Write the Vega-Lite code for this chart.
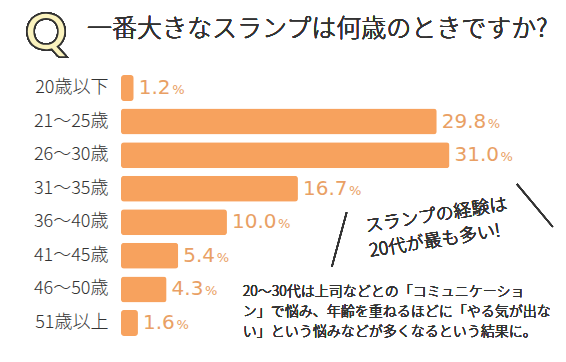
{
  "$schema": "https://vega.github.io/schema/vega-lite/v6.json",
  "width": 445,
  "height": 269,
  "autosize": {"type": "none"},
  "padding": {"left": 121, "top": 71, "right": 0, "bottom": 22},
  "background": "white",
  "config": {"view": {"stroke": null}},
  "data": {
    "values": [
      {"age": "20歳以下", "pct": 1.2, "label": "1.2"},
      {"age": "21〜25歳", "pct": 29.8, "label": "29.8"},
      {"age": "26〜30歳", "pct": 31.0, "label": "31.0"},
      {"age": "31〜35歳", "pct": 16.7, "label": "16.7"},
      {"age": "36〜40歳", "pct": 10.0, "label": "10.0"},
      {"age": "41〜45歳", "pct": 5.4, "label": "5.4"},
      {"age": "46〜50歳", "pct": 4.3, "label": "4.3"},
      {"age": "51歳以上", "pct": 1.6, "label": "1.6"}
    ]
  },
  "layer": [
    {
      "mark": {"type": "bar", "color": "#F7A25E", "cornerRadius": 3},
      "encoding": {
        "y": {
          "field": "age", "type": "nominal", "sort": null,
          "scale": {"paddingInner": 0.226, "paddingOuter": 0.12},
          "axis": {"title": null, "domain": false, "ticks": false, "labelPadding": 13, "labelFontSize": 18, "labelColor": "#333333", "labelFont": "Noto Sans CJK JP", "labelFontWeight": 300}
        },
        "x": {"field": "pct", "type": "quantitative", "scale": {"domain": [0, 42], "nice": false}, "axis": null}
      }
    },
    {
      "mark": {"type": "text", "align": "left", "baseline": "middle", "dx": 5, "font": "DejaVu Sans", "fontSize": 20, "color": "#E9A064"},
      "encoding": {
        "y": {"field": "age", "type": "nominal", "sort": null},
        "x": {"field": "pct", "type": "quantitative"},
        "text": {"field": "label"}
      }
    },
    {
      "transform": [{"filter": "length(datum.label) == 4"}],
      "mark": {"type": "text", "align": "left", "baseline": "alphabetic", "dx": 51, "dy": 6, "font": "DejaVu Sans", "fontSize": 13, "color": "#E9A064"},
      "encoding": {
        "y": {"field": "age", "type": "nominal", "sort": null},
        "x": {"field": "pct", "type": "quantitative"},
        "text": {"value": "%"}
      }
    },
    {
      "transform": [{"filter": "length(datum.label) == 3"}],
      "mark": {"type": "text", "align": "left", "baseline": "alphabetic", "dx": 38.5, "dy": 6, "font": "DejaVu Sans", "fontSize": 13, "color": "#E9A064"},
      "encoding": {
        "y": {"field": "age", "type": "nominal", "sort": null},
        "x": {"field": "pct", "type": "quantitative"},
        "text": {"value": "%"}
      }
    },
    {
      "mark": {"type": "text", "align": "center", "baseline": "middle", "dx": -75, "dy": -54, "font": "Lato", "fontWeight": "bold", "fontSize": 52, "fill": "#FBF3BE", "stroke": "#333333", "strokeWidth": 1.6},
      "encoding": {
        "x": {"datum": 0, "type": "quantitative"},
        "y": {"datum": "20歳以下"},
        "text": {"value": "Q"}
      }
    },
    {
      "mark": {"type": "text", "align": "left", "baseline": "alphabetic", "dx": -34, "dy": -51, "font": "Noto Sans CJK JP Light", "fontSize": 25, "color": "#333333"},
      "encoding": {
        "x": {"datum": 0, "type": "quantitative"},
        "y": {"datum": "20歳以下"},
        "text": {"value": "一番大きなスランプは何歳のときですか?"}
      }
    },
    {
      "mark": {"type": "text", "align": "left", "baseline": "top", "angle": -9, "dy": -4, "font": "Noto Sans CJK JP Light", "fontSize": 18, "lineHeight": 25, "lineBreak": "\n", "color": "#333333"},
      "encoding": {
        "x": {"datum": 23.0, "type": "quantitative"},
        "y": {"datum": "36〜40歳"},
        "text": {"value": "スランプの経験は\n20代が最も多い!"}
      }
    },
    {
      "mark": {"type": "text", "align": "left", "baseline": "top", "dy": -4, "font": "Noto Sans CJK JP Light", "fontSize": 14, "lineHeight": 20, "lineBreak": "\n", "color": "#333333"},
      "encoding": {
        "x": {"datum": 11.5, "type": "quantitative"},
        "y": {"datum": "46〜50歳"},
        "text": {"value": "20〜30代は上司などとの「コミュニケーショ\nン」で悩み、年齢を重ねるほどに「やる気が出な\nい」という悩みなどが多くなるという結果に。"}
      }
    },
    {
      "mark": {"type": "rule", "color": "#333333", "strokeWidth": 1.5, "yOffset": 11, "y2Offset": -10},
      "encoding": {
        "x": {"datum": 19.9, "type": "quantitative"},
        "x2": {"datum": 21.3},
        "y": {"datum": "41〜45歳"},
        "y2": {"datum": "36〜40歳"}
      }
    },
    {
      "mark": {"type": "rule", "color": "#333333", "strokeWidth": 1.5, "yOffset": -4.8, "y2Offset": 4.6},
      "encoding": {
        "x": {"datum": 37.36, "type": "quantitative"},
        "x2": {"datum": 40.75},
        "y": {"datum": "31〜35歳"},
        "y2": {"datum": "36〜40歳"}
      }
    }
  ]
}
